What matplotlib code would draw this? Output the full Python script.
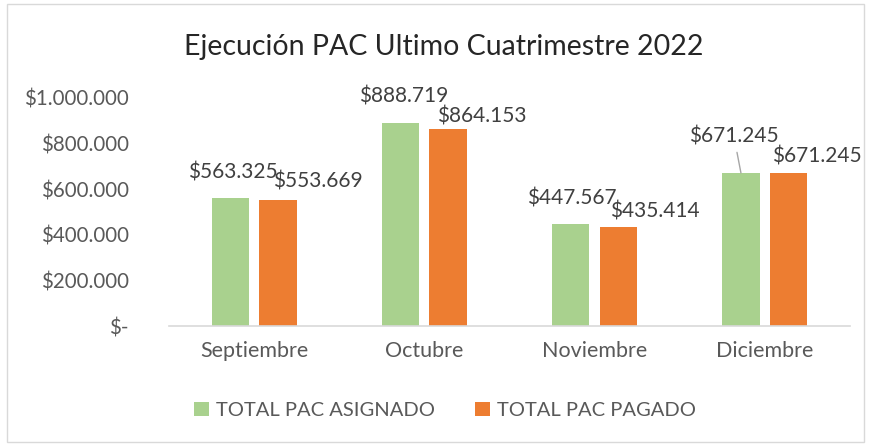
"""Ejecucion PAC - ultimo cuatrimestre 2022, barras agrupadas."""

import matplotlib

matplotlib.use("Agg")
import matplotlib.pyplot as plt
import numpy as np
from matplotlib.patches import Rectangle

# data
meses = ["Septiembre", "Octubre", "Noviembre", "Diciembre"]
asignado = [563325, 888719, 447567, 671245]
pagado = [553669, 864153, 435414, 671245]
series_names = ["TOTAL PAC ASIGNADO", "TOTAL PAC PAGADO"]
y_ticks = [0, 200000, 400000, 600000, 800000, 1000000]

GREEN = "#A9D18E"
ORANGE = "#ED7D31"
TEXT = "#595959"
LABEL = "#404040"

# label offsets (points) as Excel placed them
off_asig = [(1.5, 18), (2, 19), (1, 18), (-5, 26)]
off_pag = [(29, 13), (24, 9), (26, 11), (20, 12)]


def peso(v):
    if v == 0:
        return "$-"
    return "$" + f"{v:,.0f}".replace(",", ".")


plt.rcParams["font.family"] = ["Lato", "DejaVu Sans"]

fig = plt.figure(figsize=(8.69, 4.45), dpi=100)
ax = fig.add_axes([0.1945, 0.2674, 0.978 - 0.1945, 0.7798 - 0.2674])

x = np.arange(len(meses))
w = 0.22
off = 0.14
b1 = ax.bar(x - off, asignado, w, color=GREEN, label=series_names[0])
b2 = ax.bar(x + off, pagado, w, color=ORANGE, label=series_names[1])

ax.set_xlim(-0.5, len(meses) - 0.5)
ax.set_ylim(0, 1000000)
ax.set_yticks(y_ticks)
ax.set_yticklabels([peso(v) for v in y_ticks])
ax.set_xticks(x)
ax.set_xticklabels(meses)
ax.tick_params(axis="y", length=0, pad=29, labelsize=14.8, labelcolor=TEXT)
ax.tick_params(axis="x", length=0, pad=11, labelsize=15.5, labelcolor=TEXT)

for side in ["top", "right", "left"]:
    ax.spines[side].set_visible(False)
ax.spines["bottom"].set_color("#D9D9D9")
ax.spines["bottom"].set_linewidth(1.2)

for i in range(len(meses)):
    arrow = None
    if i == 3:
        arrow = dict(arrowstyle="-", color="#A6A6A6", lw=1, shrinkA=2, shrinkB=0)
    ax.annotate(peso(asignado[i]), xy=(x[i] - off, asignado[i]),
                xytext=off_asig[i], textcoords="offset points",
                ha="center", va="center", fontsize=15, color=LABEL,
                arrowprops=arrow)
    ax.annotate(peso(pagado[i]), xy=(x[i] + off, pagado[i]),
                xytext=off_pag[i], textcoords="offset points",
                ha="center", va="center", fontsize=15, color=LABEL)

fig.text(0.511, 0.894, "Ejecución PAC Ultimo Cuatrimestre 2022",
         ha="center", va="center", fontsize=20.5, color="#262626")

fig.legend(handles=[b1, b2], loc="center", bbox_to_anchor=(0.512, 0.078),
           ncol=2, frameon=False, fontsize=14.5, handlelength=0.75,
           handleheight=0.75, handletextpad=0.35, columnspacing=2.0,
           labelcolor=TEXT)

fig.patches.append(Rectangle((0.008, 0.006), 0.986, 0.984, transform=fig.transFigure,
                             fill=False, edgecolor="#D9D9D9", lw=1))

fig.savefig("out.png", dpi=100)
